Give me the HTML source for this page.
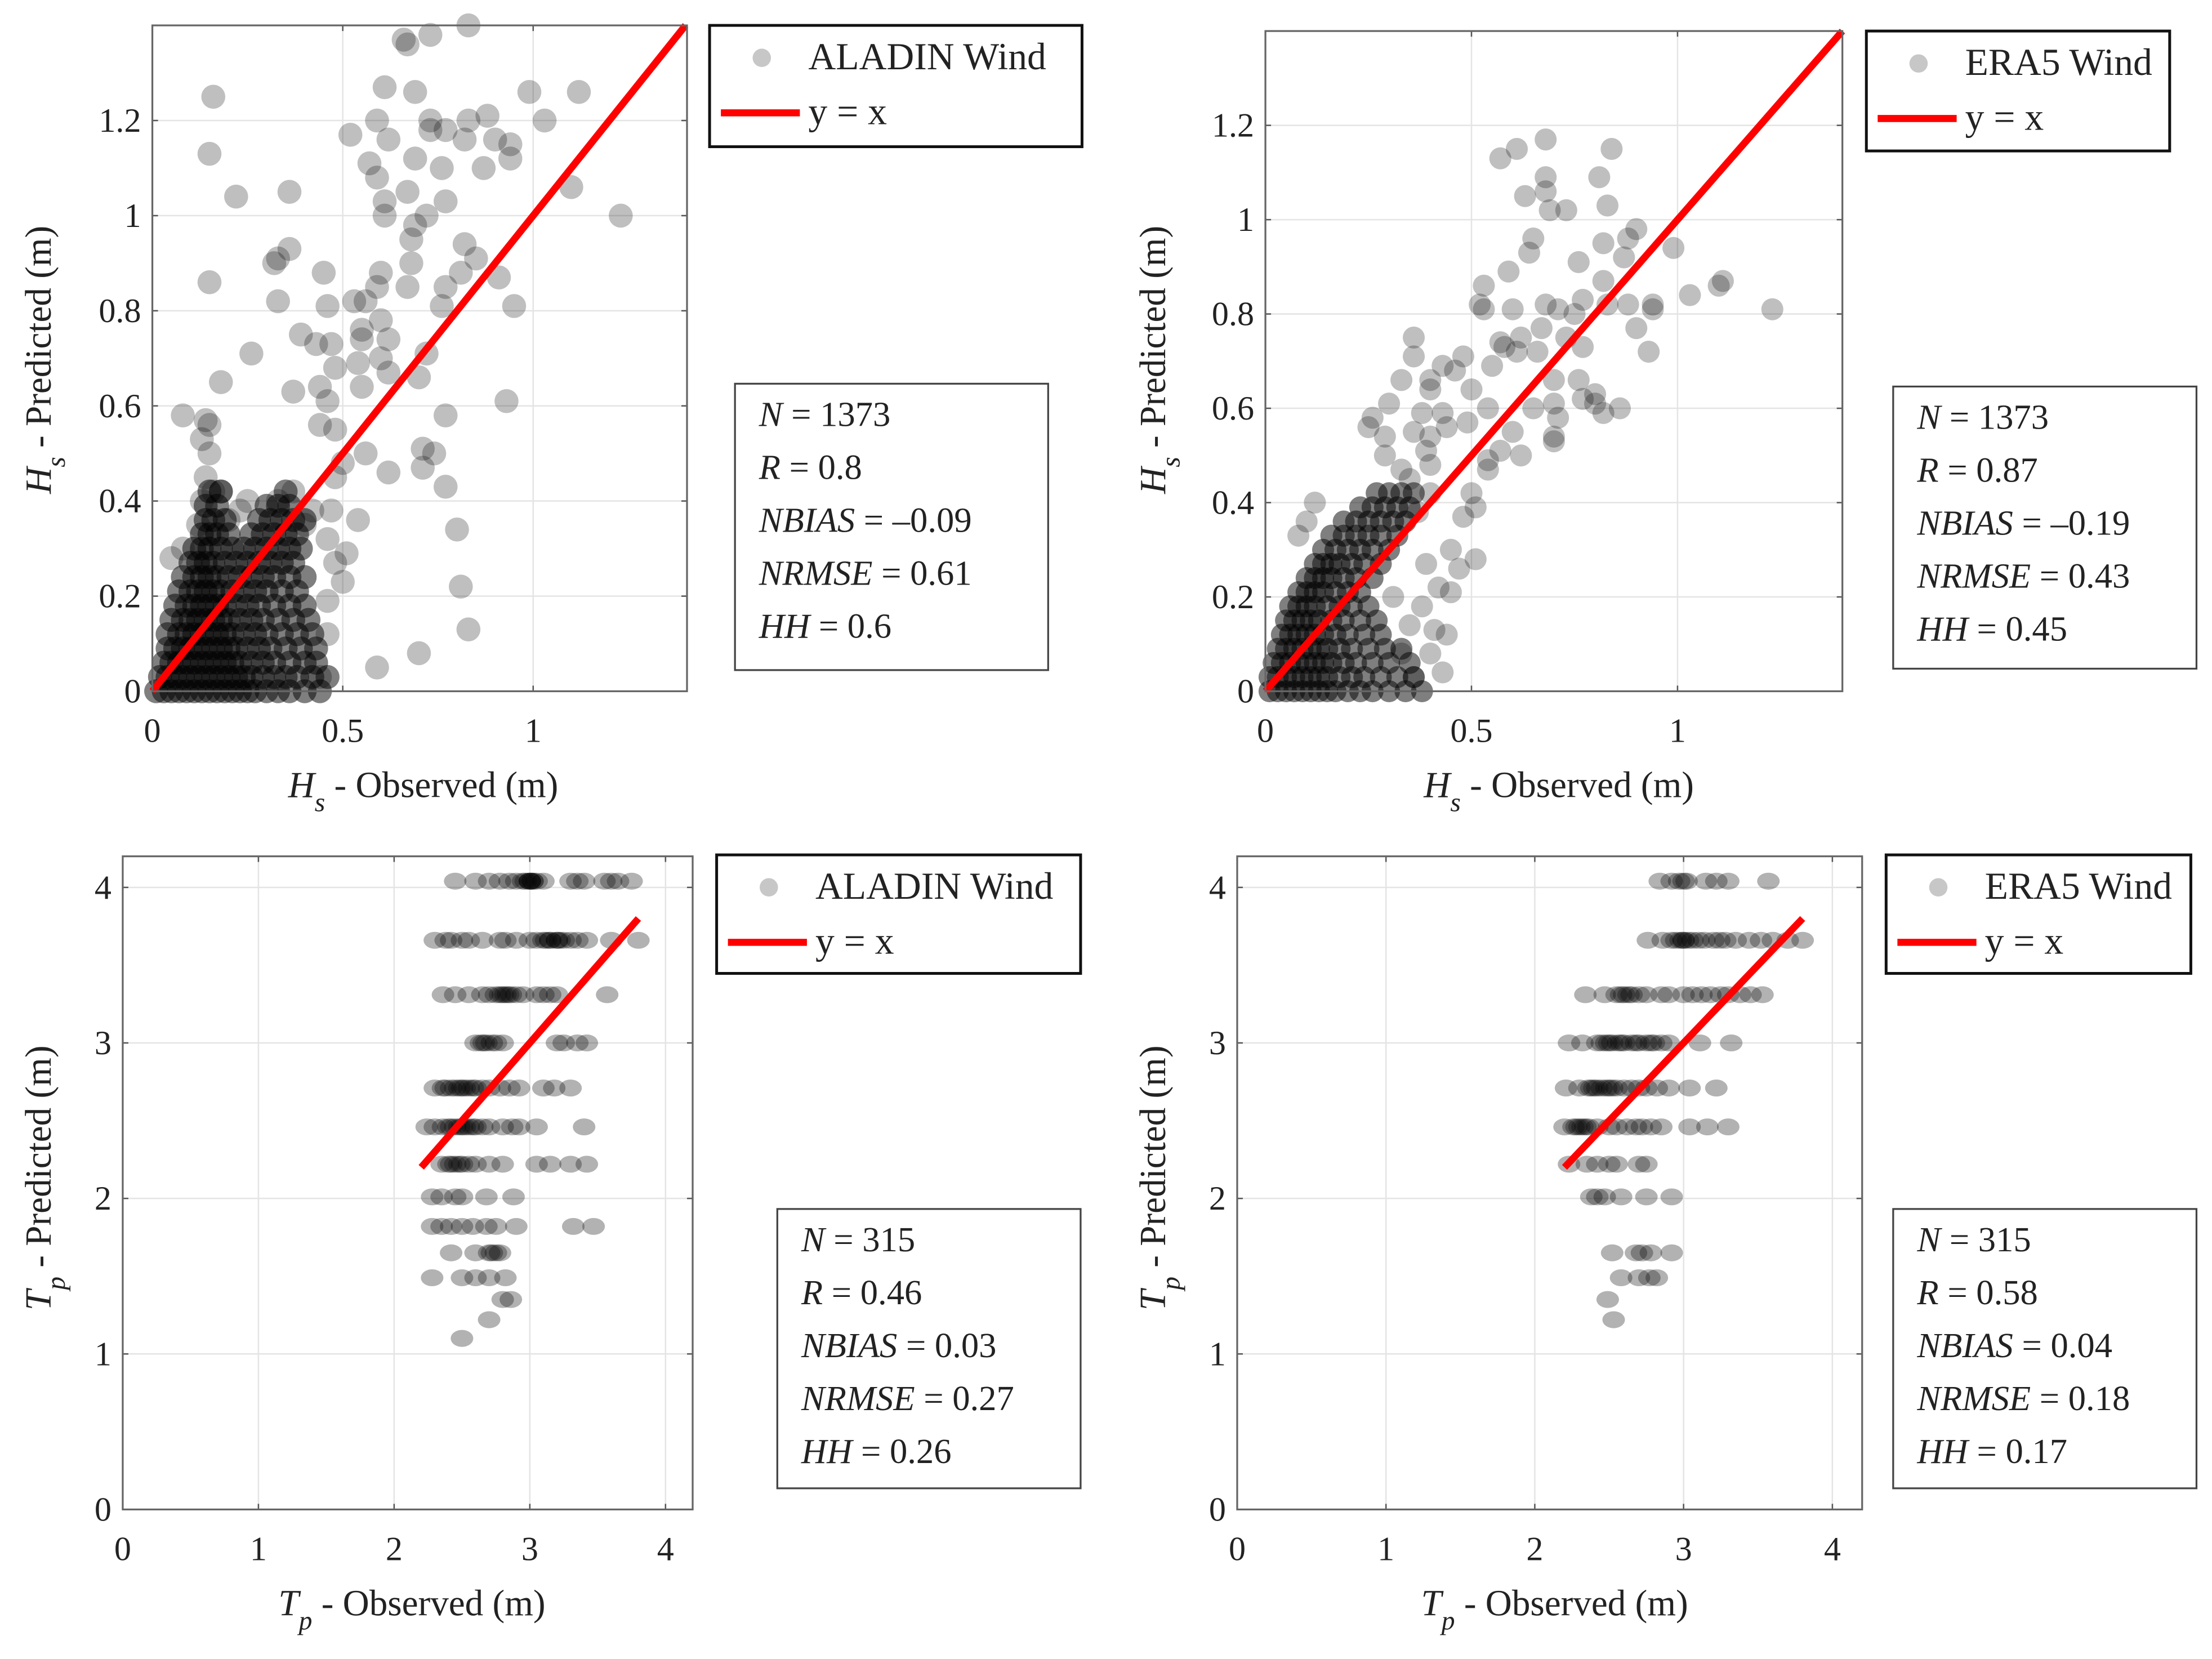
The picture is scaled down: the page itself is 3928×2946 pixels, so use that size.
<!DOCTYPE html>
<html><head><meta charset="utf-8"><style>
html,body{margin:0;padding:0;background:#fff;}
svg{display:block;}
text{font-family:"Liberation Serif",serif;fill:#222;}
</style></head><body>
<svg id="fig" xmlns="http://www.w3.org/2000/svg" width="3928" height="2946" viewBox="0 0 1568 1176">
<rect x="0" y="0" width="1568" height="1176" fill="#fff"/>
</svg>
<script>
const hsTicksX=[0,0.5,1];
const hsTickLabelsX=["0","0.5","1"];
const hsTicksY=[0,0.2,0.4,0.6,0.8,1,1.2];
const hsTickLabelsY=["0","0.2","0.4","0.6","0.8","1","1.2"];
const tpTicks=[0,1,2,3,4];
const tpTickLabels=["0","1","2","3","4"];
const refLineHs=[0,1.4];
const refLineTp=[2.2,3.8];
const statsAladinHs=["1373","0.8","\u20130.09","0.61","0.6"];
const statsEraHs=["1373","0.87","\u20130.19","0.43","0.45"];
const statsAladinTp=["315","0.46","0.03","0.27","0.26"];
const statsEraTp=["315","0.58","0.04","0.18","0.17"];

const aladinHsPoints=[[0.83,1.4],[0.73,1.38],[0.66,1.37],[0.67,1.36],[0.61,1.27],[0.69,1.26],[0.99,1.26],[1.12,1.26],[0.16,1.25],[0.59,1.2],[0.52,1.17],[0.62,1.16],[0.73,1.2],[0.73,1.18],[0.77,1.18],[0.83,1.2],[0.88,1.21],[0.82,1.16],[0.9,1.16],[0.94,1.15],[1.03,1.2],[0.94,1.12],[0.15,1.13],[0.57,1.11],[0.69,1.12],[0.76,1.1],[0.87,1.1],[0.59,1.08],[0.67,1.05],[0.61,1.03],[0.77,1.03],[0.61,1.0],[0.72,1.0],[1.1,1.06],[1.23,1.0],[0.22,1.04],[0.36,1.05],[0.69,0.98],[0.68,0.95],[0.82,0.94],[0.36,0.93],[0.33,0.91],[0.32,0.9],[0.68,0.9],[0.85,0.91],[0.6,0.88],[0.45,0.88],[0.81,0.88],[0.91,0.87],[0.15,0.86],[0.67,0.85],[0.59,0.85],[0.77,0.85],[0.53,0.82],[0.56,0.82],[0.33,0.82],[0.46,0.81],[0.76,0.81],[0.95,0.81],[0.6,0.78],[0.55,0.76],[0.39,0.75],[0.43,0.73],[0.47,0.73],[0.55,0.74],[0.62,0.74],[0.26,0.71],[0.72,0.71],[0.6,0.7],[0.54,0.69],[0.48,0.68],[0.62,0.67],[0.18,0.65],[0.37,0.63],[0.7,0.66],[0.44,0.64],[0.55,0.64],[0.46,0.61],[0.93,0.61],[0.77,0.58],[0.08,0.58],[0.14,0.57],[0.44,0.56],[0.48,0.55],[0.71,0.51],[0.74,0.5],[0.71,0.47],[0.62,0.46],[0.56,0.5],[0.77,0.43],[0.8,0.34],[0.81,0.22],[0.83,0.13],[0.7,0.08],[0.59,0.05],[0.54,0.36],[0.51,0.29],[0.5,0.23],[0.46,0.19],[0.48,0.27],[0.44,0.03],[0.46,0.12],[0.13,0.4],[0.14,0.45],[0.15,0.5],[0.13,0.53],[0.15,0.56],[0.12,0.35],[0.16,0.42],[0.08,0.3],[0.05,0.28],[0.2,0.36],[0.23,0.38],[0.18,0.42],[0.25,0.4],[0.33,0.4],[0.37,0.42],[0.48,0.45],[0.47,0.38],[0.46,0.32],[0.5,0.48],[0.42,0.38],[0.4,0.35]];
const aladinHsDenseY=[0,0.03,0.06,0.09,0.12,0.15,0.18,0.21,0.24,0.27,0.3,0.33,0.36,0.39,0.42];
const aladinHsDenseX=[
[0.01,0.03,0.05,0.07,0.09,0.11,0.13,0.15,0.17,0.19,0.21,0.23,0.25,0.27,0.3,0.33,0.36,0.4,0.44],
[0.02,0.04,0.06,0.08,0.1,0.12,0.14,0.16,0.18,0.2,0.22,0.24,0.26,0.29,0.32,0.35,0.38,0.42,0.46],
[0.03,0.05,0.07,0.09,0.11,0.13,0.15,0.17,0.19,0.21,0.23,0.26,0.29,0.32,0.36,0.4,0.43],
[0.04,0.06,0.08,0.1,0.12,0.14,0.16,0.18,0.2,0.22,0.25,0.28,0.31,0.35,0.39,0.43],
[0.04,0.07,0.09,0.11,0.13,0.15,0.17,0.19,0.21,0.24,0.27,0.3,0.34,0.38,0.42],
[0.05,0.08,0.1,0.12,0.14,0.16,0.18,0.2,0.23,0.26,0.29,0.33,0.37,0.41],
[0.06,0.09,0.11,0.13,0.15,0.17,0.19,0.22,0.25,0.28,0.32,0.36,0.4],
[0.07,0.1,0.12,0.14,0.16,0.18,0.21,0.24,0.27,0.3,0.34,0.38],
[0.08,0.11,0.13,0.15,0.17,0.2,0.23,0.26,0.29,0.32,0.36,0.4],
[0.1,0.12,0.14,0.16,0.19,0.22,0.25,0.28,0.31,0.34,0.37],
[0.11,0.13,0.15,0.18,0.21,0.24,0.27,0.3,0.33,0.36,0.39],
[0.13,0.15,0.17,0.2,0.26,0.29,0.32,0.35,0.38],
[0.14,0.16,0.19,0.28,0.31,0.34,0.37,0.4],
[0.14,0.17,0.3,0.33,0.36],
[0.15,0.18,0.35]];

const eraHsPoints=[[0.68,1.17],[0.61,1.15],[0.57,1.13],[0.84,1.15],[0.68,1.09],[0.81,1.09],[0.63,1.05],[0.68,1.06],[0.73,1.02],[0.69,1.02],[0.83,1.03],[0.9,0.98],[0.88,0.96],[0.82,0.95],[0.65,0.96],[0.64,0.93],[0.99,0.94],[0.76,0.91],[0.59,0.89],[0.87,0.92],[0.82,0.87],[1.11,0.87],[1.1,0.86],[1.03,0.84],[0.53,0.86],[0.94,0.82],[0.94,0.81],[1.23,0.81],[0.88,0.82],[0.53,0.81],[0.52,0.82],[0.6,0.81],[0.68,0.82],[0.77,0.83],[0.75,0.8],[0.83,0.82],[0.71,0.81],[0.67,0.77],[0.9,0.77],[0.93,0.72],[0.36,0.75],[0.36,0.71],[0.33,0.66],[0.3,0.61],[0.62,0.75],[0.58,0.73],[0.61,0.72],[0.57,0.74],[0.77,0.73],[0.66,0.72],[0.73,0.75],[0.48,0.71],[0.46,0.68],[0.43,0.69],[0.4,0.66],[0.4,0.64],[0.5,0.64],[0.55,0.69],[0.7,0.66],[0.76,0.66],[0.8,0.63],[0.77,0.62],[0.8,0.61],[0.86,0.6],[0.82,0.59],[0.7,0.61],[0.65,0.6],[0.54,0.6],[0.71,0.58],[0.7,0.54],[0.7,0.53],[0.25,0.56],[0.26,0.58],[0.29,0.54],[0.38,0.59],[0.36,0.55],[0.43,0.59],[0.44,0.56],[0.4,0.54],[0.49,0.57],[0.29,0.5],[0.39,0.51],[0.4,0.48],[0.6,0.55],[0.54,0.49],[0.62,0.5],[0.57,0.51],[0.54,0.47],[0.5,0.42],[0.51,0.39],[0.48,0.37],[0.51,0.28],[0.47,0.26],[0.45,0.21],[0.41,0.13],[0.36,0.03],[0.45,0.3],[0.42,0.22],[0.38,0.18],[0.4,0.42],[0.35,0.45],[0.33,0.47],[0.1,0.36],[0.08,0.33],[0.12,0.4],[0.37,0.38],[0.44,0.12],[0.4,0.08],[0.43,0.04],[0.39,0.27],[0.35,0.14],[0.31,0.2],[0.33,0.08]];
const eraHsDenseY=[0,0.03,0.06,0.09,0.12,0.15,0.18,0.21,0.24,0.27,0.3,0.33,0.36,0.39,0.42];
const eraHsDenseX=[
[0.01,0.03,0.05,0.07,0.09,0.11,0.13,0.15,0.17,0.2,0.23,0.26,0.3,0.34,0.38],
[0.01,0.03,0.05,0.07,0.09,0.11,0.13,0.15,0.18,0.21,0.24,0.28,0.32,0.36],
[0.02,0.04,0.06,0.08,0.1,0.12,0.14,0.16,0.19,0.22,0.26,0.3,0.35],
[0.03,0.05,0.07,0.09,0.11,0.13,0.15,0.18,0.21,0.25,0.29,0.33],
[0.04,0.06,0.08,0.1,0.12,0.14,0.17,0.2,0.24,0.28],
[0.05,0.07,0.09,0.11,0.13,0.16,0.19,0.23,0.27],
[0.06,0.08,0.1,0.12,0.15,0.18,0.21,0.25],
[0.08,0.1,0.12,0.14,0.17,0.2,0.23],
[0.1,0.12,0.14,0.16,0.19,0.22,0.26],
[0.12,0.14,0.16,0.18,0.21,0.24,0.28],
[0.14,0.17,0.2,0.23,0.26,0.3],
[0.16,0.19,0.22,0.25,0.28,0.32],
[0.19,0.22,0.25,0.28,0.31,0.34],
[0.23,0.26,0.29,0.32,0.35],
[0.27,0.3,0.33,0.36]];

const aladinTpLevels=[4.04,3.66,3.31,3.0,2.71,2.46,2.22,2.01,1.82,1.65,1.49,1.35,1.22,1.1];
const aladinTpObs=[
[2.45,2.6,2.7,2.78,2.85,2.9,2.95,2.97,3.0,3.0,3.0,3.02,3.02,3.05,3.1,3.3,3.35,3.4,3.55,3.6,3.65,3.75],
[2.3,2.38,2.42,2.5,2.55,2.65,2.78,2.82,2.9,3.0,3.05,3.1,3.12,3.15,3.15,3.2,3.2,3.22,3.25,3.3,3.35,3.42,3.6,3.8],
[2.36,2.45,2.55,2.65,2.7,2.75,2.78,2.8,2.82,2.84,2.86,2.9,2.95,3.05,3.1,3.15,3.2,3.57],
[2.6,2.64,2.66,2.68,2.72,2.75,2.8,3.2,3.25,3.35,3.42],
[2.3,2.36,2.38,2.42,2.45,2.48,2.5,2.52,2.55,2.58,2.6,2.65,2.7,2.78,2.85,2.92,3.1,3.18,3.3],
[2.24,2.3,2.36,2.4,2.42,2.45,2.48,2.5,2.52,2.55,2.58,2.6,2.65,2.7,2.8,2.87,2.92,3.05,3.4],
[2.35,2.4,2.42,2.45,2.48,2.5,2.55,2.6,2.7,2.8,3.05,3.15,3.3,3.42],
[2.28,2.35,2.45,2.5,2.68,2.88],
[2.28,2.35,2.42,2.5,2.58,2.68,2.75,2.9,3.32,3.47],
[2.42,2.6,2.7,2.72,2.75,2.78],
[2.28,2.5,2.6,2.7,2.82],
[2.8,2.86],[2.7],[2.5]];
const eraTpLevels=[4.04,3.66,3.31,3.0,2.71,2.46,2.22,2.01,1.65,1.49,1.35,1.22];
const eraTpObs=[
[2.84,2.92,2.97,3.0,3.02,3.15,3.22,3.3,3.57],
[2.76,2.86,2.92,2.95,2.98,3.0,3.0,3.03,3.06,3.1,3.14,3.2,3.24,3.28,3.35,3.44,3.52,3.6,3.7,3.8],
[2.34,2.47,2.55,2.58,2.6,2.63,2.65,2.7,2.75,2.85,2.9,3.0,3.06,3.12,3.18,3.25,3.3,3.38,3.45,3.53],
[2.23,2.32,2.42,2.45,2.48,2.5,2.52,2.56,2.58,2.6,2.65,2.68,2.7,2.75,2.78,2.8,2.85,2.9,3.11,3.32],
[2.21,2.3,2.36,2.38,2.4,2.42,2.45,2.48,2.5,2.52,2.55,2.6,2.65,2.7,2.75,2.82,2.9,3.04,3.22],
[2.2,2.26,2.28,2.3,2.32,2.34,2.36,2.42,2.5,2.55,2.62,2.68,2.72,2.78,2.85,3.04,3.16,3.3],
[2.23,2.35,2.42,2.5,2.55,2.7,2.75],
[2.38,2.42,2.47,2.58,2.75,2.92],
[2.52,2.68,2.72,2.78,2.92],
[2.58,2.7,2.77,2.82],
[2.49],[2.53]];

const NS="http://www.w3.org/2000/svg";
const fig=document.getElementById('fig');
function mk(tag,attrs,parent){const e=document.createElementNS(NS,tag);for(const k in attrs)e.setAttribute(k,attrs[k]);(parent||fig).appendChild(e);return e;}
function rowsToPoints(levels,rows){const out=[];levels.forEach((y,i)=>rows[i].forEach(x=>out.push([x,y])));return out;}

function panel(c){
  const g=mk('g',{});
  
  
  const sx=v=>c.x0+(v-c.xmin)/(c.xmax-c.xmin)*(c.x1-c.x0);
  const sy=v=>c.y1-(v-c.ymin)/(c.ymax-c.ymin)*(c.y1-c.y0);
  c.xt.forEach((t,i)=>{
    const l=mk('line',{x1:sx(t),x2:sx(t),y1:c.y0,y2:c.y1,stroke:'#e4e4e4','stroke-width':1},g);
    
    
    mk('line',{x1:sx(t),x2:sx(t),y1:c.y1,y2:c.y1-4,stroke:'#555','stroke-width':1},g);
    mk('line',{x1:sx(t),x2:sx(t),y1:c.y0,y2:c.y0+4,stroke:'#555','stroke-width':1},g);
    const tx=mk('text',{x:sx(t),y:c.y1+36,'text-anchor':'middle','font-size':24},g);
    tx.textContent=c.xl[i];
    
    
  });
  c.yt.forEach((t,i)=>{
    const l=mk('line',{x1:c.x0,x2:c.x1,y1:sy(t),y2:sy(t),stroke:'#e4e4e4','stroke-width':1},g);
    
    
    mk('line',{x1:c.x0,x2:c.x0+4,y1:sy(t),y2:sy(t),stroke:'#555','stroke-width':1},g);
    mk('line',{x1:c.x1,x2:c.x1-4,y1:sy(t),y2:sy(t),stroke:'#555','stroke-width':1},g);
    const tx=mk('text',{x:c.x0-8,y:sy(t)+8,'text-anchor':'end','font-size':24},g);
    tx.textContent=c.yl[i];
    
    
  });
  const pg=mk('g',{},g);
  
  
  c.pts.forEach(p=>{
    const e=mk('ellipse',{cx:sx(p[0]),cy:sy(p[1]),rx:c.rx,ry:c.ry,fill:'#000','fill-opacity':c.alpha},pg);
    
    
  });
  (c.dense||[]).forEach(p=>{
    const e=mk('ellipse',{cx:sx(p[0]),cy:sy(p[1]),rx:c.rx,ry:c.ry,fill:'#000','fill-opacity':c.denseAlpha},pg);
    
    
  });
  const rl=mk('line',{x1:sx(c.ref[0]),y1:sy(c.ref[0]),x2:sx(c.ref[1]),y2:sy(c.ref[1]),stroke:'#f00','stroke-width':5},g);
  
  
  const bx=mk('rect',{x:c.x0,y:c.y0,width:c.x1-c.x0,height:c.y1-c.y0,fill:'none',stroke:'#666','stroke-width':1.3},g);
  
  
  const xlab=mk('text',{x:c.xlx,y:c.y1+75,'text-anchor':'middle','font-size':26},g);
  xlab.innerHTML='<tspan font-style="italic">'+c.v+'</tspan><tspan font-style="italic" font-size="19" dy="10">'+c.sub+'</tspan><tspan dy="-10"> - Observed (m)</tspan>';
  
  
  const ylab=mk('text',{x:0,y:0,'text-anchor':'middle','font-size':26,transform:'translate('+c.ylx+','+c.yly+') rotate(-90)'},g);
  ylab.innerHTML='<tspan font-style="italic">'+c.v+'</tspan><tspan font-style="italic" font-size="19" dy="10">'+c.sub+'</tspan><tspan dy="-10"> - Predicted (m)</tspan>';
  
  
  const L=c.leg;
  const lg=mk('g',{},g);
  
  
  mk('rect',{x:L.x,y:L.y,width:L.w,height:L.h,fill:'#fff',stroke:'#111','stroke-width':2},lg);
  const lm=mk('circle',{cx:L.x+37,cy:L.y+23,r:6.5,fill:'#000','fill-opacity':0.22},lg);
  
  
  const lt=mk('text',{x:L.x+70,y:L.y+31,'font-size':27},lg);
  lt.textContent=c.label;
  
  
  const ll=mk('line',{x1:L.x+8,x2:L.x+64,y1:L.y+62,y2:L.y+62,stroke:'#f00','stroke-width':5},lg);
  
  
  const lt2=mk('text',{x:L.x+70,y:L.y+70,'font-size':27},lg);
  lt2.textContent='y = x';
  
  
  const S=c.st;
  const sg=mk('g',{},g);
  
  
  mk('rect',{x:S.x,y:S.y,width:S.w,height:S.h,fill:'#fff',stroke:'#444','stroke-width':1.3},sg);
  const names=['N','R','NBIAS','NRMSE','HH'];
  names.forEach((n,i)=>{
    const t=mk('text',{x:S.x+17,y:S.y+30+i*37.5,'font-size':25},sg);
    t.innerHTML='<tspan font-style="italic">'+n+'</tspan> = '+c.stats[i];
    
    
  });
}

panel({name:'panel-aladin-hs',x0:108,x1:487,y0:18,y1:490,xmin:0,xmax:1.404,ymin:0,ymax:1.4,xt:hsTicksX,xl:hsTickLabelsX,yt:hsTicksY,yl:hsTickLabelsY,pts:aladinHsPoints,dense:rowsToPoints(aladinHsDenseY,aladinHsDenseX),denseAlpha:0.5,rx:8.5,ry:8.5,alpha:0.25,ref:refLineHs,v:'H',sub:'s',xlx:300,ylx:36,yly:255,label:'ALADIN Wind',leg:{x:503,y:18,w:264,h:86},st:{x:521,y:272,w:222,h:203},stats:statsAladinHs});
panel({name:'panel-era5-hs',x0:897,x1:1306,y0:22,y1:490,xmin:0,xmax:1.4,ymin:0,ymax:1.4,xt:hsTicksX,xl:hsTickLabelsX,yt:hsTicksY,yl:hsTickLabelsY,pts:eraHsPoints,dense:rowsToPoints(eraHsDenseY,eraHsDenseX),denseAlpha:0.5,rx:7.8,ry:7.8,alpha:0.25,ref:refLineHs,v:'H',sub:'s',xlx:1105,ylx:826,yly:255,label:'ERA5 Wind',leg:{x:1323,y:22,w:215,h:85},st:{x:1342,y:274,w:215,h:200},stats:statsEraHs});
panel({name:'panel-aladin-tp',x0:87,x1:491,y0:607,y1:1070,xmin:0,xmax:4.2,ymin:0,ymax:4.2,xt:tpTicks,xl:tpTickLabels,yt:tpTicks,yl:tpTickLabels,pts:rowsToPoints(aladinTpLevels,aladinTpObs),rx:8,ry:6,alpha:0.3,ref:refLineTp,v:'T',sub:'p',xlx:292,ylx:36,yly:835,label:'ALADIN Wind',leg:{x:508,y:606,w:258,h:84},st:{x:551,y:857,w:215,h:198},stats:statsAladinTp});
panel({name:'panel-era5-tp',x0:877,x1:1320,y0:607,y1:1070,xmin:0,xmax:4.2,ymin:0,ymax:4.2,xt:tpTicks,xl:tpTickLabels,yt:tpTicks,yl:tpTickLabels,pts:rowsToPoints(eraTpLevels,eraTpObs),rx:8,ry:6,alpha:0.3,ref:refLineTp,v:'T',sub:'p',xlx:1102,ylx:826,yly:835,label:'ERA5 Wind',leg:{x:1337,y:606,w:216,h:84},st:{x:1342,y:857,w:215,h:198},stats:statsEraTp});
</script>
</body></html>
